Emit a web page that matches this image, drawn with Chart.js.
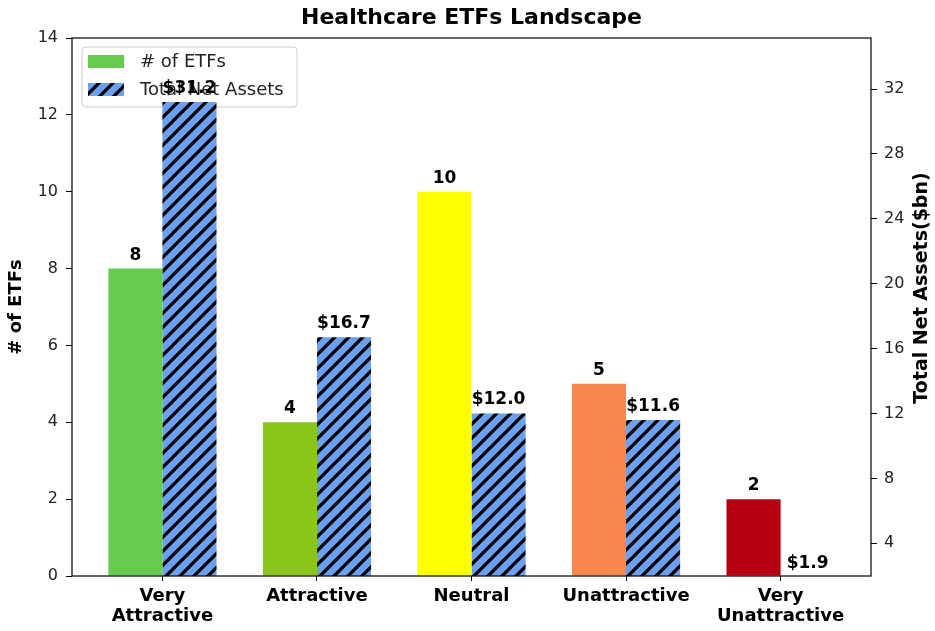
<!DOCTYPE html>
<html>
<head>
<meta charset="utf-8">
<title>Healthcare ETFs Landscape</title>
<script src="https://cdn.jsdelivr.net/npm/chart.js@4.4.1/dist/chart.umd.min.js"></script>
<style>
  html, body { margin: 0; padding: 0; background: #fff; }
  #wrap { width: 935px; height: 631px; }
</style>
</head>
<body>
<div id="wrap"><canvas id="grafico"></canvas></div>
<script>
// datos
const categorias = [['Very', 'Attractive'], 'Attractive', 'Neutral', 'Unattractive', ['Very', 'Unattractive']];
const numEtfs = [8, 4, 10, 5, 2];
const activosNetos = [31.2, 16.7, 12.0, 11.6, 1.9];
const coloresEtfs = ['#66cc4d', '#8cc51a', '#ffff00', '#f78950', '#b5000f'];
const ticksEtfs = [0, 2, 4, 6, 8, 10, 12, 14];
const ticksActivos = [4, 8, 12, 16, 20, 24, 28, 32];

const FUENTE = 'DejaVu Sans';
const azul = '#6b9ff0';

// patron rayado "//"
function crearRayado() {
    const c = document.createElement('canvas');
    const s = 14;
    c.width = s; c.height = s;
    const g = c.getContext('2d');
    g.fillStyle = azul;
    g.fillRect(0, 0, s, s);
    g.strokeStyle = '#000';
    g.lineWidth = 3.3;
    g.beginPath();
    g.moveTo(-2, s + 2); g.lineTo(s + 2, -2);
    g.moveTo(-3, 3); g.lineTo(3, -3);
    g.moveTo(s - 3, s + 3); g.lineTo(s + 3, s - 3);
    g.stroke();
    return g.createPattern(c, 'repeat');
}
const rayado = crearRayado();

const extras = {
    id: 'extras',
    // la leyenda queda debajo de las barras, como en el original
    beforeDatasetsDraw(chart) {
        const ctx = chart.ctx;
        ctx.save();
        ctx.beginPath();
        ctx.roundRect(82, 47, 215, 60, 4);
        ctx.fillStyle = 'rgba(255,255,255,0.8)';
        ctx.fill();
        ctx.strokeStyle = '#cccccc';
        ctx.lineWidth = 1;
        ctx.stroke();
        ctx.fillStyle = coloresEtfs[0];
        ctx.fillRect(88, 55, 36, 13);
        ctx.fillStyle = rayado;
        ctx.fillRect(88, 83, 36, 13);
        ctx.fillStyle = '#222';
        ctx.font = '18px ' + FUENTE;
        ctx.textAlign = 'left';
        ctx.textBaseline = 'middle';
        ctx.fillText('# of ETFs', 140, 62);
        ctx.fillText('Total Net Assets', 140, 90);
        ctx.restore();
    },
    afterDraw(chart) {
        const ctx = chart.ctx;
        const a = chart.chartArea;
        ctx.save();

        // marco
        ctx.strokeStyle = '#000';
        ctx.lineWidth = 1.2;
        ctx.strokeRect(a.left, a.top, a.right - a.left, a.bottom - a.top);

        // titulo
        ctx.fillStyle = '#000';
        ctx.font = 'bold 22px ' + FUENTE;
        ctx.textAlign = 'center';
        ctx.textBaseline = 'middle';
        ctx.fillText('Healthcare ETFs Landscape', (a.left + a.right) / 2, 18);

        // titulos de ejes
        ctx.font = 'bold 18px ' + FUENTE;
        ctx.save();
        ctx.translate(16, (a.top + a.bottom) / 2);
        ctx.rotate(-Math.PI / 2);
        ctx.fillText('# of ETFs', 0, 0);
        ctx.restore();
        ctx.font = 'bold 19px ' + FUENTE;
        ctx.save();
        ctx.translate(922, (a.top + a.bottom) / 2 - 19);
        ctx.rotate(-Math.PI / 2);
        ctx.fillText('Total Net Assets($bn)', 0, 0);
        ctx.restore();

        // etiquetas de valores
        ctx.fillStyle = '#000';
        ctx.font = 'bold 17px ' + FUENTE;
        ctx.textAlign = 'center';
        ctx.textBaseline = 'alphabetic';
        chart.getDatasetMeta(0).data.forEach((el, i) => {
            ctx.fillText(String(numEtfs[i]), el.x, el.y - 9);
        });
        chart.getDatasetMeta(1).data.forEach((el, i) => {
            ctx.fillText('$' + activosNetos[i].toFixed(1), el.x, el.y - 9);
        });
        ctx.restore();
    }
};

const ticksFuente = { family: FUENTE, size: 16 };

new Chart(document.getElementById('grafico'), {
    type: 'bar',
    data: {
        datasets: [{
            label: '# of ETFs',
            data: numEtfs.map((v, i) => ({ x: i, y: v })),
            backgroundColor: coloresEtfs,
            yAxisID: 'y'
        }, {
            label: 'Total Net Assets',
            data: activosNetos.map((v, i) => ({ x: i, y: v })),
            backgroundColor: rayado,
            yAxisID: 'y1'
        }]
    },
    options: {
        responsive: true,
        maintainAspectRatio: false,
        animation: false,
        layout: { padding: { top: 38, left: 0, right: 0, bottom: 0 } },
        datasets: { bar: { categoryPercentage: 0.7, barPercentage: 1 } },
        scales: {
            x: {
                type: 'linear',
                offset: false,
                min: -0.585,
                max: 4.585,
                afterBuildTicks: (scale) => { scale.ticks = categorias.map((c, i) => ({ value: i })); },
                afterFit: (scale) => { scale.height = 55; scale.paddingLeft = 0; scale.paddingRight = 0; },
                grid: { offset: false, drawOnChartArea: false, drawTicks: true, tickLength: 5, color: '#000' },
                border: { display: false },
                ticks: {
                    autoSkip: false,
                    maxRotation: 0,
                    padding: 5,
                    color: '#000',
                    font: { family: FUENTE, size: 18, weight: 'bold', lineHeight: 1.12 },
                    callback: (v) => categorias[v]
                }
            },
            y: {
                position: 'left',
                min: 0,
                max: 14,
                afterBuildTicks: (scale) => { scale.ticks = ticksEtfs.map(v => ({ value: v })); },
                afterFit: (scale) => { scale.width = 72; scale.paddingTop = 0; scale.paddingBottom = 0; },
                grid: { drawOnChartArea: false, drawTicks: true, tickLength: 6, color: '#000' },
                border: { display: false },
                ticks: { padding: 8, color: '#222', font: ticksFuente }
            },
            y1: {
                position: 'right',
                min: 1.98,
                max: 35.15,
                afterBuildTicks: (scale) => { scale.ticks = ticksActivos.map(v => ({ value: v })); },
                afterFit: (scale) => { scale.width = 64; scale.paddingTop = 0; scale.paddingBottom = 0; },
                grid: { drawOnChartArea: false, drawTicks: true, tickLength: 6, color: '#000' },
                border: { display: false },
                ticks: { padding: 7, color: '#222', font: ticksFuente }
            }
        },
        plugins: {
            legend: { display: false },
            title: { display: false },
            tooltip: { enabled: false }
        }
    },
    plugins: [extras]
});
</script>
</body>
</html>
